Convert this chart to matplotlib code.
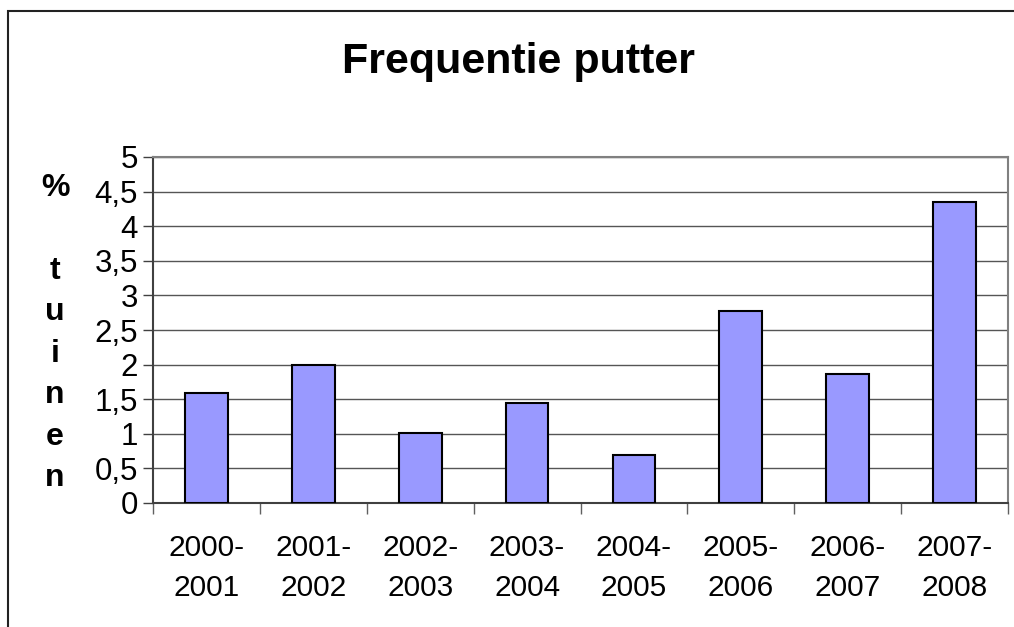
import numpy as np
import matplotlib.pyplot as plt
from matplotlib.patches import Rectangle

# Gegevens uit de grafiek
seizoenen = ["2000-\n2001", "2001-\n2002", "2002-\n2003", "2003-\n2004",
             "2004-\n2005", "2005-\n2006", "2006-\n2007", "2007-\n2008"]
percentage = [1.59, 2.0, 1.01, 1.45, 0.70, 2.78, 1.86, 4.35]
y_ticks = [0, 0.5, 1, 1.5, 2, 2.5, 3, 3.5, 4, 4.5, 5]
y_tick_labels = ["0", "0,5", "1", "1,5", "2", "2,5", "3", "3,5", "4", "4,5", "5"]

plt.rcParams['font.family'] = ['Liberation Sans', 'DejaVu Sans']

W, H = 1014, 627
fig = plt.figure(figsize=(W / 100, H / 100), dpi=100)
fig.patch.set_facecolor("white")

# Plotgebied in pixels: links 153, rechts 1008, boven 157, onder 503
ax = fig.add_axes([153 / W, 1 - 503 / H, (1008 - 153) / W, (503 - 157) / H])

x = np.arange(len(seizoenen))
ax.bar(x, percentage, width=0.4, color="#9999FF", edgecolor="black",
       linewidth=1.5, zorder=3)

ax.set_xlim(-0.5, len(seizoenen) - 0.5)
ax.set_ylim(0, 5)

ax.set_yticks(y_ticks)
ax.set_yticklabels(y_tick_labels, fontsize=22.5)
ax.tick_params(axis="y", length=7, width=1, color="#404040", pad=4)

ax.set_xticks(x)
ax.set_xticklabels(seizoenen, fontsize=21.5, linespacing=1.55)
ax.tick_params(axis="x", which="major", length=0, pad=22)
ax.set_xticks(np.arange(-0.5, len(seizoenen)), minor=True)
ax.tick_params(axis="x", which="minor", length=8, width=1, color="#606060")

ax.yaxis.grid(True, color="#555555", linewidth=1)
ax.set_axisbelow(True)

for kant in ["left", "bottom"]:
    ax.spines[kant].set_color("#404040")
    ax.spines[kant].set_linewidth(1.5)
for kant in ["top", "right"]:
    ax.spines[kant].set_color("#808080")
    ax.spines[kant].set_linewidth(1.5)

fig.text(518 / W, 1 - 62 / H, "Frequentie putter", fontsize=31,
         fontweight="bold", ha="center", va="center")

fig.text(55 / W, 1 - 333 / H, "%\n\nt\nu\ni\nn\ne\nn", fontsize=23,
         fontweight="bold", ha="center", va="center", linespacing=1.5,
         multialignment="center")

# Kader rond de grafiek (rechts en onder afgesneden)
fig.patches.append(Rectangle((8 / W, -0.1), 1.2, 0.1 + 1 - 11 / H,
                             transform=fig.transFigure, fill=False,
                             edgecolor="#222222", linewidth=1.5))

fig.savefig("out.png", dpi=100)
